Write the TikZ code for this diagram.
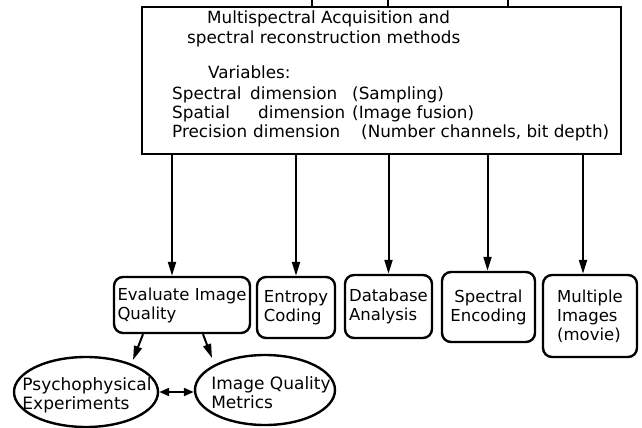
\documentclass[tikz,border=0pt]{standalone}
\usepackage{fontspec}
\setmainfont{DejaVu Sans}
\usetikzlibrary{arrows.meta,shapes.geometric,calc}
\begin{document}
\begin{tikzpicture}[x=1pt,y=-1pt,
  every node/.style={font=\fontsize{16.5}{19}\selectfont},
  txt/.style={anchor=base west,inner sep=0pt,font=\fontsize{16.8}{19}\selectfont},
  mainbox/.style={draw,line width=2.4pt,rectangle,inner sep=0pt},
  rbox/.style={draw,line width=2.4pt,rounded corners=9pt,inner sep=0pt},
  ell/.style={draw,line width=2.4pt,ellipse,inner sep=0pt},
  elltxt/.style={align=left,inner sep=0pt,font=\fontsize{17}{19}\selectfont},
  arr/.style={line width=2pt,-{Triangle[length=14pt,width=8pt]}},
  dbl/.style={line width=2pt,{Triangle[length=10pt,width=8pt]}-{Triangle[length=10pt,width=8pt]}},
  stub/.style={line width=2pt}]
\useasboundingbox (0,0) rectangle (642,428);

% main box
\node[mainbox, minimum width=479pt, minimum height=147pt] (main) at (381.5,80.5) {};
\coordinate (s1) at (312,0);
\coordinate (s2) at (388,0);
\coordinate (s3) at (508,0);
\draw[stub] (s1) -- (s1 |- main.north);
\draw[stub] (s2) -- (s2 |- main.north);
\draw[stub] (s3) -- (s3 |- main.north);

\node[txt] (t1) at (207,23.5) {Multispectral Acquisition and};
\node[txt] (t2) at (187,43.5) {spectral reconstruction methods};
\node[txt] (t3) at (208,78.5) {Variables:};
\node[txt] (t4a) at (172,99) {Spectral};
\node[txt] (t4b) at (250,99) {dimension};
\node[txt] (t4c) at (352,99) {(Sampling)};
\node[txt] (t5a) at (172,118) {Spatial};
\node[txt] (t5b) at (258,118) {dimension};
\node[txt] (t5c) at (352,118) {(Image fusion)};
\node[txt] (t6a) at (172,137) {Precision};
\node[txt] (t6b) at (253,137) {dimension};
\node[txt] (t6c) at (361,137) {(Number channels, bit depth)};

% lower boxes
\node[rbox, align=left, minimum width=136pt, minimum height=56pt] (eval) at (182,305) {Evaluate Image\\Quality};
\node[rbox, align=left, minimum width=78pt, minimum height=61pt] (entropy) at (296,307.5) {Entropy\\Coding};
\node[rbox, align=left, minimum width=87pt, minimum height=63pt] (dbase) at (388.5,306.5) {Database\\Analysis};
\node[rbox, align=center, minimum width=93pt, minimum height=70pt] (spenc) at (488.5,307) {Spectral\\Encoding};
\node[rbox, align=left, minimum width=94pt, minimum height=82pt] (multi) at (590,316) {Multiple\\Images\\(movie)};

% ellipses
\node[ell, minimum width=144pt, minimum height=70pt] (psy) at (86,392) {};
\node[elltxt] (psyt) at (87,395) {Psychophysical\\Experiments};
\node[ell, minimum width=140pt, minimum height=70pt] (iqm) at (265,390) {};
\node[elltxt] (iqmt) at (271,393) {Image Quality\\Metrics};

% arrows from main box
\coordinate (e1) at ($(eval.north)+(-10,0)$);
\coordinate (e2) at (entropy.north);
\coordinate (e3) at (dbase.north);
\coordinate (e4) at ($(spenc.north)+(-1,0)$);
\coordinate (e5) at ($(multi.north)+(-7,0)$);
\draw[arr] (e1 |- main.south) -- (e1);
\draw[arr] (e2 |- main.south) -- (e2);
\draw[arr] (e3 |- main.south) -- (e3);
\draw[arr] (e4 |- main.south) -- (e4);
\draw[arr] (e5 |- main.south) -- (e5);

% arrows to ellipses
\draw[arr] ($(eval.south)+(-39,0)$) -- ($(psy.center)+(47,-32)$);
\draw[arr] ($(eval.south)+(21,0)$) -- ($(iqm.center)+(-53,-32)$);
\draw[dbl] (psy.east) -- (psy.east -| iqm.west);
\end{tikzpicture}
\end{document}
